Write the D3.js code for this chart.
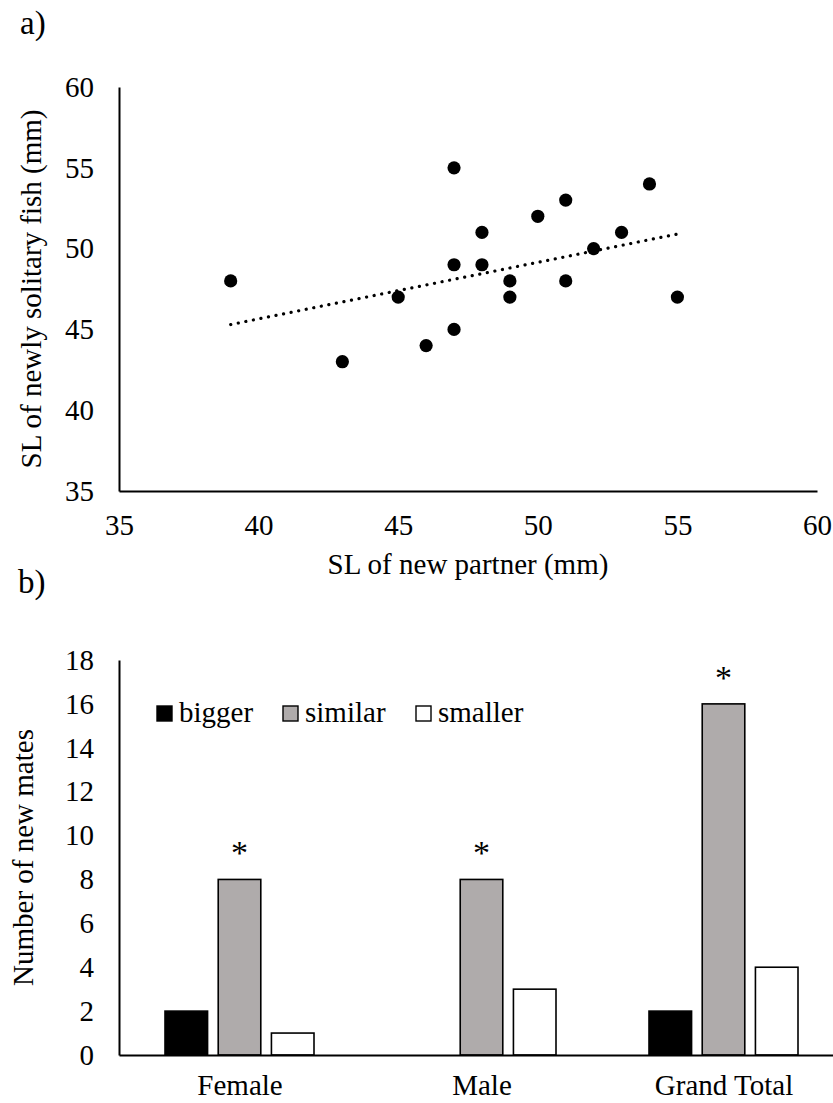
<!DOCTYPE html>
<html>
<head>
<meta charset="utf-8">
<script src="https://cdn.jsdelivr.net/npm/d3@7"></script>
<style>
  html, body { margin: 0; padding: 0; background: #fff; }
  svg { display: block; }
  text { font-family: "Liberation Serif", "Times New Roman", serif; fill: #000; }
</style>
</head>
<body>
<svg id="chart" width="833" height="1103"></svg>
<script>
// ---------- Data: panel a (scatter) ----------
const partnerSL  = [39, 43, 45, 46, 47, 47, 47, 48, 48, 49, 49, 50, 51, 51, 52, 53, 54, 55];
const solitarySL = [48, 43, 47, 44, 55, 49, 45, 51, 49, 48, 47, 52, 53, 48, 50, 51, 54, 47];
const trendX = [39, 55];
const trendY = [45.3, 50.9];
const scatterTicks = [35, 40, 45, 50, 55, 60];

// ---------- Data: panel b (grouped bars) ----------
const groups = ["Female", "Male", "Grand Total"];
const seriesNames = ["bigger", "similar", "smaller"];
const bigger  = [2, 0, 2];
const similar = [8, 8, 16];
const smaller = [1, 3, 4];
const signif  = ["*", "*", "*"];   // marks above the "similar" bars
const barTicks = [0, 2, 4, 6, 8, 10, 12, 14, 16, 18];
const seriesFill = ["#000000", "#AFABAB", "#FFFFFF"];

const svg = d3.select("#chart");
const FS = 29;
const FF = "Liberation Serif, Times New Roman, serif";

// ================= Panel a =================
svg.append("text").attr("x", 20).attr("y", 34).style("font-size", "33px").text("a)");

const xS = d3.scaleLinear().domain([35, 60]).range([119, 817]);
const yS = d3.scaleLinear().domain([35, 60]).range([491, 87]);

const gA = svg.append("g");

const yAxisA = gA.append("g").attr("transform", `translate(${xS(35)},0)`)
  .call(d3.axisLeft(yS).tickValues(scatterTicks).tickSize(0).tickSizeOuter(0).tickPadding(25).tickFormat(d3.format("d")));
const xAxisA = gA.append("g").attr("transform", `translate(0,${yS(35)})`)
  .call(d3.axisBottom(xS).tickValues(scatterTicks).tickSize(0).tickSizeOuter(0).tickPadding(23).tickFormat(d3.format("d")));

[yAxisA, xAxisA].forEach(ax => {
  ax.select(".domain").attr("stroke", "#000").attr("stroke-width", 2);
  ax.selectAll("text").style("font-size", FS + "px").style("font-family", FF).attr("fill", "#000");
});

// trend line
gA.append("line")
  .attr("x1", xS(trendX[0])).attr("y1", yS(trendY[0]))
  .attr("x2", xS(trendX[1])).attr("y2", yS(trendY[1]))
  .attr("stroke", "#000").attr("stroke-width", 3.2)
  .attr("stroke-linecap", "round").attr("stroke-dasharray", "0.1 7.6");

// points
gA.selectAll("circle.pt").data(partnerSL.map((x, i) => [x, solitarySL[i]]))
  .join("circle").attr("class", "pt")
  .attr("cx", d => xS(d[0])).attr("cy", d => yS(d[1])).attr("r", 6.6).attr("fill", "#000");

// titles
svg.append("text").attr("x", (xS(35) + xS(60)) / 2).attr("y", 574)
  .attr("text-anchor", "middle").style("font-size", FS + "px").text("SL of new partner (mm)");
svg.append("text").attr("transform", `translate(41,${(yS(35) + yS(60)) / 2}) rotate(-90)`)
  .attr("text-anchor", "middle").style("font-size", FS + "px").text("SL of newly solitary fish (mm)");

// ================= Panel b =================
svg.append("text").attr("x", 18).attr("y", 593).style("font-size", "33px").text("b)");

const x0 = d3.scaleBand().domain(groups).range([119, 845]).paddingInner(0).paddingOuter(0);
const x1 = d3.scaleBand().domain(seriesNames).range([46, 195]).paddingInner(0.2).paddingOuter(0);
const yB = d3.scaleLinear().domain([0, 18]).range([1055, 660]);
const color = d3.scaleOrdinal().domain(seriesNames).range(seriesFill);

const gB = svg.append("g");

const yAxisB = gB.append("g").attr("transform", `translate(119,0)`)
  .call(d3.axisLeft(yB).tickValues(barTicks).tickSize(0).tickSizeOuter(0).tickPadding(25).tickFormat(d3.format("d")));
yAxisB.select(".domain").attr("stroke", "#000").attr("stroke-width", 2);
yAxisB.selectAll("text").style("font-size", FS + "px").style("font-family", FF).attr("fill", "#000");

const table = groups.map((g, i) => ({ group: g, values: { bigger: bigger[i], similar: similar[i], smaller: smaller[i] }, sig: signif[i] }));

const grp = gB.selectAll("g.grp").data(table).join("g").attr("class", "grp")
  .attr("transform", d => `translate(${x0(d.group)},0)`);

grp.selectAll("rect").data(d => seriesNames.map(s => ({ s, v: d.values[s] })).filter(e => e.v > 0))
  .join("rect")
  .attr("x", d => x1(d.s)).attr("width", x1.bandwidth())
  .attr("y", d => yB(d.v)).attr("height", d => yB(0) - yB(d.v))
  .attr("fill", d => color(d.s)).attr("stroke", "#000").attr("stroke-width", 1.6);

grp.append("text")
  .attr("x", x1("similar") + x1.bandwidth() / 2)
  .attr("y", d => yB(d.values.similar) - 15)
  .attr("text-anchor", "middle").style("font-size", "34px").text(d => d.sig);

// x axis (drawn after bars so it sits on top)
const xAxisB = gB.append("g").attr("transform", `translate(0,${yB(0)})`)
  .call(d3.axisBottom(x0).tickSize(0).tickSizeOuter(0).tickPadding(19));
xAxisB.select(".domain").attr("stroke", "#000").attr("stroke-width", 2);
xAxisB.selectAll("text").style("font-size", FS + "px").style("font-family", FF).attr("fill", "#000");

// legend
const legX = [157, 283, 416];
const leg = gB.selectAll("g.leg").data(seriesNames).join("g").attr("class", "leg")
  .attr("transform", (d, i) => `translate(${legX[i]},706)`);
leg.append("rect").attr("width", 15).attr("height", 15)
  .attr("fill", d => color(d)).attr("stroke", "#000").attr("stroke-width", 1.4);
leg.append("text").attr("x", 22).attr("y", 16).style("font-size", FS + "px").text(d => d);

svg.append("text").attr("transform", `translate(33,${(yB(0) + yB(18)) / 2}) rotate(-90)`)
  .attr("text-anchor", "middle").style("font-size", FS + "px").text("Number of new mates");
</script>
</body>
</html>
